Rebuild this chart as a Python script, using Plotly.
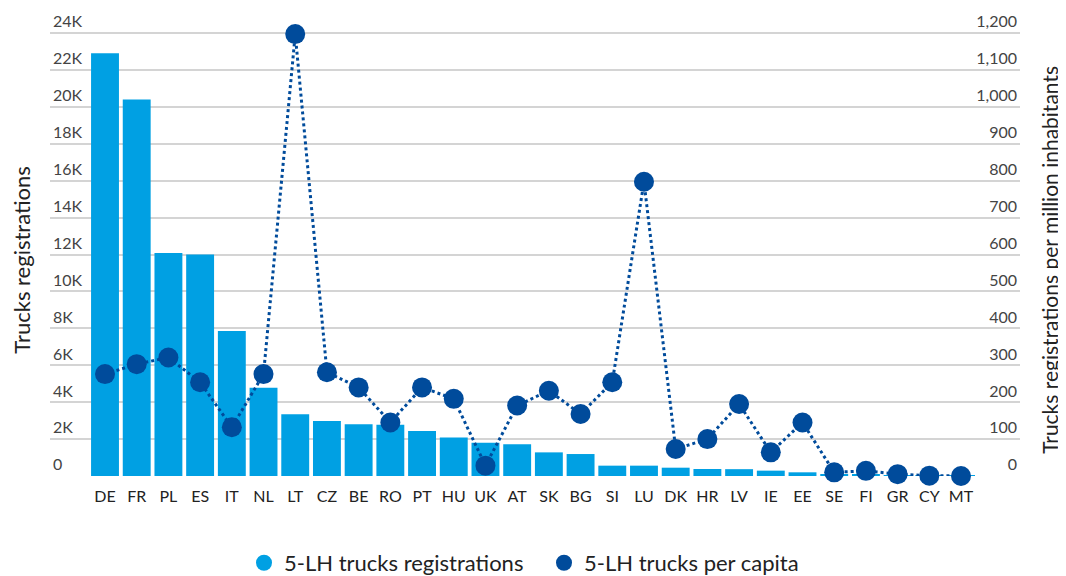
import plotly.graph_objects as go

countries = ["DE", "FR", "PL", "ES", "IT", "NL", "LT", "CZ", "BE", "RO", "PT", "HU", "UK", "AT",
             "SK", "BG", "SI", "LU", "DK", "HR", "LV", "IE", "EE", "SE", "FI", "GR", "CY", "MT"]
registrations = [22900, 20400, 12080, 12000, 7850, 4780, 3340, 2980, 2800, 2780, 2440, 2080, 1800, 1720,
                 1280, 1190, 560, 560, 450, 380, 370, 290, 200, 80, 60, 30, 10, 10]
per_capita = [276, 303, 321, 254, 132, 276, 1197, 281, 240, 145, 240, 209, 28, 191,
              231, 168, 254, 797, 73, 100, 195, 64, 145, 10, 14, 5, 1, 0]

left_ticks = list(range(0, 24001, 2000))
left_labels = ["0"] + [f"{v // 1000}K" for v in left_ticks[1:]]
right_ticks = list(range(0, 1201, 100))

BAR = "#00A0E3"
DOT = "#004B9B"
FONT = "Lato"

# page body has an 8px margin, so the figure is 8px smaller than the window
W, H = 1058, 568
# a bit of head room above the top gridline so the top tick label fits inside
top = 465 / 443

fig = go.Figure()
fig.add_trace(go.Bar(x=countries, y=registrations, marker_color=BAR, marker_line_width=0,
                     showlegend=False))
fig.add_trace(go.Scatter(x=countries, y=per_capita, yaxis="y2", mode="lines+markers",
                         line=dict(color=DOT, width=3, dash="dot"),
                         marker=dict(color=DOT, size=20), showlegend=False, cliponaxis=False))
# legend entries with round symbols
fig.add_trace(go.Scatter(x=[None], y=[None], mode="markers", name="5-LH trucks registrations",
                         marker=dict(color=BAR, size=20)))
fig.add_trace(go.Scatter(x=[None], y=[None], mode="markers", name="5-LH trucks per capita",
                         marker=dict(color=DOT, size=20)))

fig.update_layout(
    width=W, height=H,
    margin=dict(l=42, r=46, t=3, b=100, autoexpand=False),
    paper_bgcolor="white", plot_bgcolor="white",
    font=dict(family=FONT, size=16, color="#222222"),
    bargap=0.12,
    xaxis=dict(range=[-1.735, 28.86], showgrid=False, ticks="", ticklabelstandoff=9,
               tickfont=dict(size=16), showline=False, zeroline=False),
    yaxis=dict(range=[0, 24000 * top], tickvals=left_ticks, ticktext=left_labels,
               ticklabelposition="inside top", gridcolor="#D4D4D4", gridwidth=1.5,
               zeroline=False, showline=False),
    yaxis2=dict(range=[0, 1200 * top], tickvals=right_ticks, tickformat=",d", overlaying="y",
                side="right", ticklabelposition="inside top", showgrid=False, zeroline=False,
                showline=False),
    legend=dict(orientation="h", x=0.2, xanchor="left", y=-0.187, yanchor="middle",
                font=dict(size=22), itemsizing="trace", entrywidth=255, entrywidthmode="pixels"),
    annotations=[
        dict(text="Trucks registrations", textangle=-90, xref="paper", yref="paper",
             x=-0.029, y=0.465, xanchor="center", yanchor="middle", showarrow=False,
             font=dict(size=22)),
        dict(text="Trucks registrations per million inhabitants", textangle=-90, xref="paper",
             yref="paper", x=1.031, y=0.465, xanchor="center", yanchor="middle", showarrow=False,
             font=dict(size=21)),
    ],
)

fig.write_html("out.html")
